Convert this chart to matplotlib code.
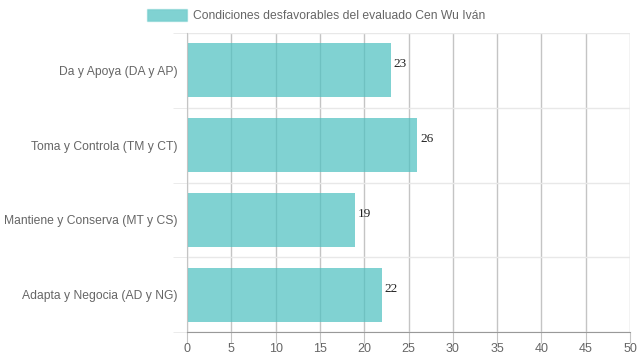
import matplotlib.pyplot as plt
from matplotlib.patches import Patch
import numpy as np

# --- données ---
categories = ["Da y Apoya (DA y AP)", "Toma y Controla (TM y CT)",
              "Mantiene y Conserva (MT y CS)", "Adapta y Negocia (AD y NG)"]
valeurs = [23, 26, 19, 22]
x_ticks = [0, 5, 10, 15, 20, 25, 30, 35, 40, 45, 50]
serie = "Condiciones desfavorables del evaluado Cen Wu Iván"

plt.rcParams['font.family'] = ['Liberation Sans', 'DejaVu Sans']

fig = plt.figure(figsize=(6.39, 3.6), dpi=100)
ax = fig.add_axes([187 / 639, 1 - 332 / 360, 443 / 639, 299 / 360])

pos = np.arange(len(categories))
couleur = (75 / 255, 192 / 255, 192 / 255, 0.7)
ax.barh(pos, valeurs, height=0.72, color=couleur, zorder=2)

# étiquettes de valeur au bout des barres
for p, v in zip(pos, valeurs):
    ax.text(v + 0.3, p - 0.08, str(v), va='center', ha='left',
            fontsize=9.5, family='Liberation Serif', color='#222222', zorder=3)

ax.set_xlim(0, 50)
ax.set_ylim(len(categories) - 0.5, -0.5)
ax.set_xticks(x_ticks)
ax.set_xticklabels([str(t) for t in x_ticks])
ax.set_yticks(pos)
ax.set_yticklabels(categories)
ax.set_yticks(np.arange(-0.5, len(categories), 1), minor=True)

ax.grid(axis='x', color='#c4c4c4', linewidth=1, zorder=1)
ax.grid(axis='y', which='minor', color='#e8e8e8', linewidth=1, zorder=1)

ax.tick_params(axis='x', length=8, color='#c4c4c4', labelsize=9, labelcolor='#666666', pad=0)
ax.tick_params(axis='y', which='major', length=0, labelsize=8.7, labelcolor='#666666', pad=7)
ax.tick_params(axis='y', which='minor', length=10, color='#e8e8e8')

for s in ['top', 'right']:
    ax.spines[s].set_visible(False)
ax.spines['left'].set_color('#c4c4c4')
ax.spines['bottom'].set_color('#999999')

handle = Patch(facecolor=couleur, edgecolor=(75 / 255, 192 / 255, 192 / 255, 0.3), linewidth=1)
fig.legend([handle], [serie], loc='upper center', bbox_to_anchor=(0.495, 1.0),
           frameon=False, fontsize=8.7, labelcolor='#666666',
           handlelength=3.3, handleheight=1.15, handletextpad=0.55, borderaxespad=0.35)

fig.savefig("out.png", dpi=100)
